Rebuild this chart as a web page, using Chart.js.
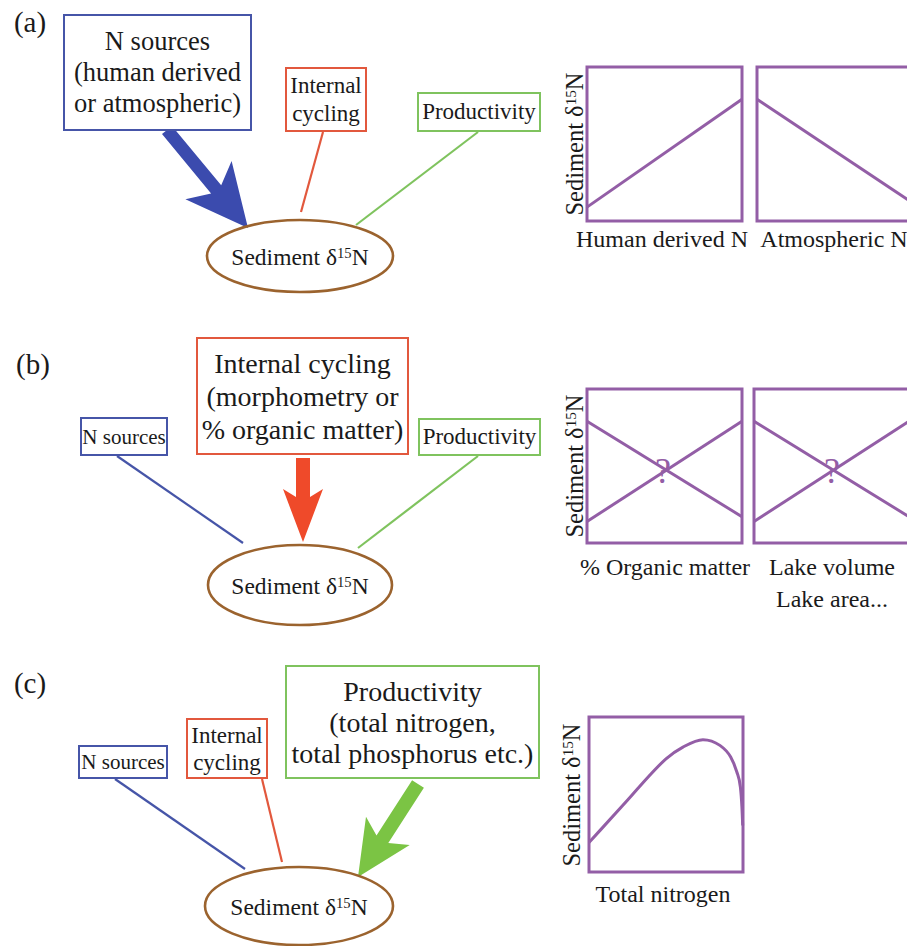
<!DOCTYPE html>
<html><head><meta charset="utf-8">
<script src="https://cdn.jsdelivr.net/npm/chart.js@4.4.1/dist/chart.umd.min.js"></script>
<style>
html,body{margin:0;padding:0;background:#fff;overflow:hidden;}
#root{position:relative;width:907px;height:946px;overflow:hidden;font-family:'Liberation Serif','Times New Roman','DejaVu Serif',serif;color:#1a1a1a;}
.box{position:absolute;box-sizing:border-box;display:flex;align-items:center;justify-content:center;text-align:center;white-space:nowrap;background:#fff;}
.t{position:absolute;white-space:nowrap;transform:translate(-50%,-50%);text-align:center;line-height:1;}
.rot{transform:translate(-50%,-50%) rotate(-90deg);}
sup{font-size:0.62em;line-height:0;vertical-align:0;position:relative;top:-0.45em;}
canvas{position:absolute;}
svg{position:absolute;left:0;top:0;}
</style></head><body><div id="root"></div>
<script>
// ---- data ----
const xEnds = [0, 100];
const humanDerivedN = [9, 79];
const atmosphericN = [79, 12];
const organicMatterRise = [14, 79];
const organicMatterFall = [79, 17];
const lakeSizeRise = [14, 79];
const lakeSizeFall = [79, 17];
const totalNitrogenX = [0, 22, 50, 61, 74, 85, 92, 96, 98.3, 99.3, 99.8];
const totalNitrogenY = [19, 43, 73, 80.6, 85.4, 81.7, 74.2, 64.5, 54.8, 41.9, 30];
const yTitle = 'Sediment δ<sup>15</sup>N';
const xTitlesA = ['Human derived N', 'Atmospheric N'];
const xTitlesB = ['% Organic matter', 'Lake volume', 'Lake area...'];
const xTitlesC = ['Total nitrogen'];
const panelLabels = ['(a)', '(b)', '(c)'];

// ---- style ----
const PURPLE = '#935ea6';
const BLUE = '#4655a8', RED = '#e2583d', GREEN = '#7fc35e', BROWN = '#9b632e';
const BLUE_A = '#3b4bae', RED_A = '#ef4a2a', GREEN_A = '#7bc444';
const root = document.getElementById('root');

// ---- schematic (SVG) ----
const NS = 'http://www.w3.org/2000/svg';
const svg = document.createElementNS(NS, 'svg');
svg.setAttribute('width', 907); svg.setAttribute('height', 946);
root.appendChild(svg);
function el(tag, attrs){ const e=document.createElementNS(NS,tag); for(const k in attrs) e.setAttribute(k, attrs[k]); svg.appendChild(e); return e; }
function line(x1,y1,x2,y2,c){ el('line',{x1,y1,x2,y2,stroke:c,'stroke-width':2.2}); }
function ellipse(cx,cy,rx,ry){ el('ellipse',{cx,cy,rx,ry,fill:'none',stroke:BROWN,'stroke-width':2.6}); }
function arrow(sx,sy,tx,ty,sw,hl,hw,notch,c){
  const dx=tx-sx, dy=ty-sy, L=Math.hypot(dx,dy), ux=dx/L, uy=dy/L, nx=-uy, ny=ux;
  const P=(a,b)=>(tx+ux*a+nx*b).toFixed(1)+','+(ty+uy*a+ny*b).toFixed(1);
  const pts=[P(-L,-sw),P(-hl+notch,-sw),P(-hl,-hw),P(0,0),P(-hl,hw),P(-hl+notch,sw),P(-L,sw)];
  el('polygon',{points:pts.join(' '),fill:c});
}
// (a)
line(323,132,301,212,RED); line(478,132,356,225,GREEN);
arrow(167,130,248,228,6.5,62,30,12,BLUE_A);
ellipse(300,256,93,36);
// (b)
line(117,456,243,543,BLUE); line(478,456,358,548,GREEN);
arrow(303,458,303,542,7,53,20,8,RED_A);
ellipse(300,585,92,40);
// (c)
line(115,779,245,869,BLUE); line(262,779,282,862,RED);
arrow(418,784,358,877,7,55,26,10,GREEN_A);
ellipse(299,906,94,39);

// ---- HTML text ----
function box(x,y,w,h,c,html,fs,lh){
  const d=document.createElement('div'); d.className='box';
  Object.assign(d.style,{left:x+'px',top:y+'px',width:w+'px',height:h+'px',border:'2.5px solid '+c,fontSize:fs+'px',lineHeight:lh+'px'});
  d.innerHTML='<div>'+html+'</div>'; root.appendChild(d);
}
function text(cx,cy,html,fs,extra){
  const d=document.createElement('div'); d.className='t'+(extra&&extra.rot?' rot':'');
  Object.assign(d.style,{left:cx+'px',top:cy+'px',fontSize:fs+'px'});
  if(extra&&extra.color) d.style.color=extra.color;
  d.innerHTML=html; root.appendChild(d);
}
// panel letters
text(30,22,panelLabels[0],29); text(33,364,panelLabels[1],29); text(30,683,panelLabels[2],29);
// (a)
box(63,14,189,117,BLUE,'N sources<br>(human derived<br>or atmospheric)',26.5,31);
box(285,67,82,65,RED,'Internal<br>cycling',23,28);
box(417,92,124,40,GREEN,'Productivity',23,28);
text(300,258,'Sediment δ<sup>15</sup>N',23.5);
// (b)
box(196,337,213,118,RED,'Internal cycling<br>(morphometry or<br>% organic matter)',28,33);
box(80,417,88,39,BLUE,'N sources',21,26);
box(418,418,123,38,GREEN,'Productivity',23,28);
text(300,587,'Sediment δ<sup>15</sup>N',23.5);
// (c)
box(78,745,90,34,BLUE,'N sources',21,26);
box(186,718,82,61,RED,'Internal<br>cycling',23,27);
box(285,665,255,114,GREEN,'Productivity<br>(total nitrogen,<br>total phosphorus etc.)',28,31);
text(299,908,'Sediment δ<sup>15</sup>N',23.5);

// mini-chart titles
text(575,144,yTitle,24.5,{rot:true});
text(662,239,xTitlesA[0],24); text(834,239,xTitlesA[1],24);
text(575,466,yTitle,24.5,{rot:true});
text(665,567,xTitlesB[0],24); text(832,567,xTitlesB[1],24); text(832,599,xTitlesB[2],24);
text(572,795,yTitle,24.5,{rot:true});
text(663,894,xTitlesC[0],24);
text(663,471,'?',36,{color:PURPLE}); text(832,471,'?',36,{color:PURPLE});

// ---- mini charts (Chart.js) ----
const framePlugin={id:'frame',beforeDatasetsDraw(chart){const {ctx,chartArea:a}=chart;ctx.save();ctx.strokeStyle=PURPLE;ctx.lineWidth=3;ctx.strokeRect(a.left,a.top,a.right-a.left,a.bottom-a.top);ctx.restore();}};
function miniChart(frame, series){
  const pad=3, w=frame[2]-frame[0]+2*pad, h=frame[3]-frame[1]+2*pad;
  const c=document.createElement('canvas');
  c.width=w; c.height=h;
  Object.assign(c.style,{left:(frame[0]-pad)+'px',top:(frame[1]-pad)+'px',width:w+'px',height:h+'px'});
  root.appendChild(c);
  new Chart(c,{type:'scatter',
    data:{datasets:series.map(s=>({data:s.x.map((v,i)=>({x:v,y:s.y[i]})),showLine:true,borderColor:PURPLE,borderWidth:3,pointRadius:0,fill:false,
      tension:s.smooth?0.4:0,cubicInterpolationMode:s.smooth?'monotone':'default',clip:false}))},
    options:{responsive:false,animation:false,devicePixelRatio:1,events:[],layout:{padding:pad},
      plugins:{legend:{display:false},tooltip:{enabled:false}},
      scales:{x:{type:'linear',min:0,max:100,display:false},y:{type:'linear',min:0,max:100,display:false}}},
    plugins:[framePlugin]});
}
miniChart([587,67,742,221],[{x:xEnds,y:humanDerivedN}]);
miniChart([757,67,912,221],[{x:xEnds,y:atmosphericN}]);
miniChart([587,389,742,543],[{x:xEnds,y:organicMatterFall},{x:xEnds,y:organicMatterRise}]);
miniChart([754,389,909,543],[{x:xEnds,y:lakeSizeFall},{x:xEnds,y:lakeSizeRise}]);
miniChart([589,717,743,872],[{x:totalNitrogenX,y:totalNitrogenY,smooth:true}]);
</script></body></html>
